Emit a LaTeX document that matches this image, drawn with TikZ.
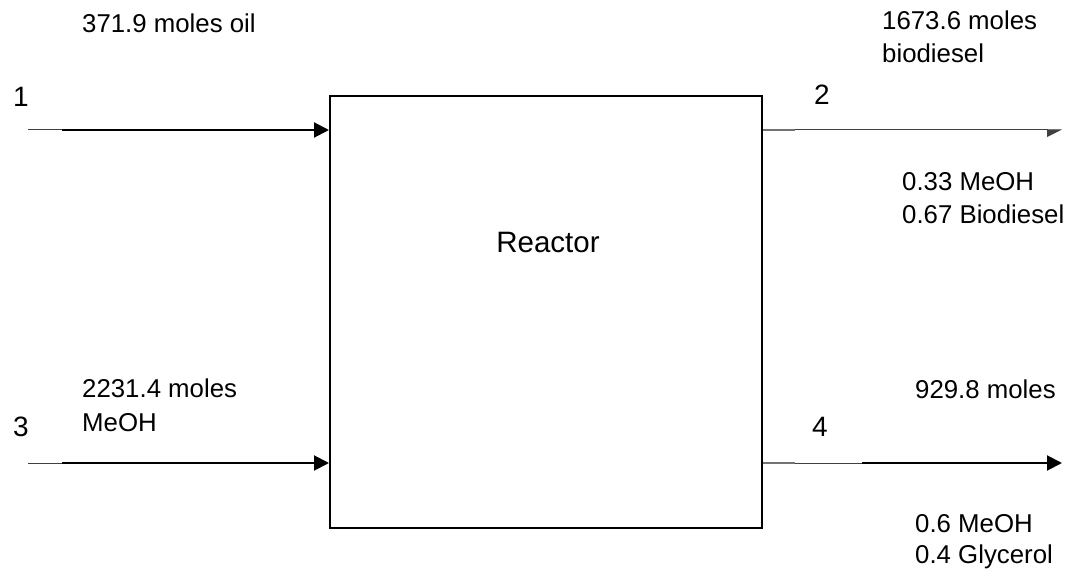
\documentclass[tikz,border=0pt]{standalone}
\usepackage{fontspec}
\setmainfont{Liberation Sans}
\usetikzlibrary{arrows.meta}
\begin{document}
\begin{tikzpicture}[x=1pt,y=-1pt,
  lbl/.style={anchor=base west, inner sep=0pt, font=\fontsize{25.8}{30}\selectfont},
  num/.style={anchor=base west, inner sep=0pt, font=\fontsize{28}{32}\selectfont},
  thinl/.style={draw=black!75, line width=1pt},
  thickl/.style={draw=black, line width=2pt},
  stub/.style={draw=black!55, line width=2pt},
  tipfull/.style={-{Triangle[length=15pt,width=15pt]}},
  tiphalf/.style={-{Triangle[length=14pt,width=14pt,right]}}]
\useasboundingbox (0,0) rectangle (1072,572);
\fill[white] (0,0) rectangle (1072,572);

% reactor box
\node[draw, line width=2pt, minimum width=432pt, minimum height=432pt, inner sep=0pt] (reactor) at (546,312) {};
\node[lbl, anchor=base, font=\fontsize{29.5}{33}\selectfont] (rtext) at (548,253) {Reactor};

% stream 1
\coordinate (s1a) at (28,130);
\coordinate (s1b) at (62,130);
\draw[thinl] (s1a) -- (s1b);
\draw[thickl, tipfull] (s1b) -- (reactor.west |- s1b);

% stream 3
\coordinate (s3a) at (28,463);
\coordinate (s3b) at (62,463);
\draw[thinl] (s3a) -- (s3b);
\draw[thickl, tipfull] (s3b) -- (reactor.west |- s3b);

% stream 2
\coordinate (s2e) at (1062,130);
\coordinate (s2s) at (795,130);
\draw[thinl, tiphalf] (reactor.east |- s2e) -- (s2e);
\draw[stub] (reactor.east |- s2s) -- (s2s);

% stream 4
\coordinate (s4e) at (1062,463);
\coordinate (s4m) at (862,463);
\coordinate (s4s) at (795,462.5);
\draw[thinl] (reactor.east |- s4m) -- (s4m);
\draw[thickl, tipfull] (s4m) -- (s4e);
\draw[stub] (reactor.east |- s4s) -- (s4s);

% stream numbers
\node[num] (n1) at (13,107) {1};
\node[num] (n2) at (814,105) {2};
\node[num] (n3) at (13,436) {3};
\node[num] (n4) at (812,436) {4};

% labels
\node[lbl] (l1) at (82,33) {371.9 moles oil};
\node[lbl] (l2a) at (882,30) {1673.6 moles};
\node[lbl] (l2b) at (882,63) {biodiesel};
\node[lbl] (l2c) at (902,190.5) {0.33 MeOH};
\node[lbl] (l2d) at (902,224) {0.67 Biodiesel};
\node[lbl] (l3a) at (82,397) {2231.4 moles};
\node[lbl] (l3b) at (82,431) {MeOH};
\node[lbl] (l4a) at (915,398) {929.8 moles};
\node[lbl] (l4b) at (915,532) {0.6 MeOH};
\node[lbl] (l4c) at (915,563) {0.4 Glycerol};
\end{tikzpicture}
\end{document}
